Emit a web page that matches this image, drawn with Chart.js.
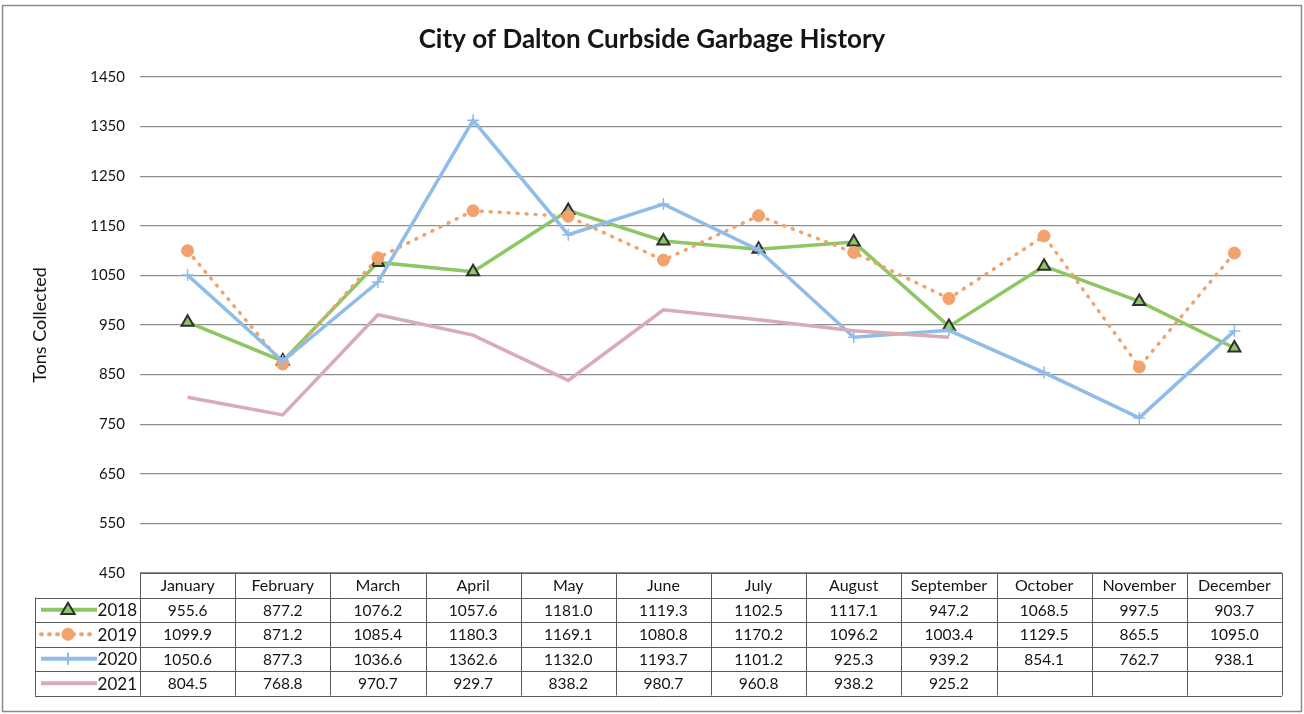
<!DOCTYPE html>
<html>
<head>
<meta charset="utf-8">
<script src="https://cdn.jsdelivr.net/npm/chart.js@4.4.1/dist/chart.umd.min.js"></script>
<style>
  html,body{margin:0;padding:0;background:#fff;}
  canvas{display:block;}
</style>
</head>
<body>
<canvas id="c" width="1304" height="714"></canvas>
<script>
const months = ["January","February","March","April","May","June","July","August","September","October","November","December"];
const seriesNames = ["2018","2019","2020","2021"];
const v2018 = [955.6, 877.2, 1076.2, 1057.6, 1181.0, 1119.3, 1102.5, 1117.1, 947.2, 1068.5, 997.5, 903.7];
const v2019 = [1099.9, 871.2, 1085.4, 1180.3, 1169.1, 1080.8, 1170.2, 1096.2, 1003.4, 1129.5, 865.5, 1095.0];
const v2020 = [1050.6, 877.3, 1036.6, 1362.6, 1132.0, 1193.7, 1101.2, 925.3, 939.2, 854.1, 762.7, 938.1];
const v2021 = [804.5, 768.8, 970.7, 929.7, 838.2, 980.7, 960.8, 938.2, 925.2, null, null, null];
const yMin = 450, yMax = 1450, yStep = 100;

const FONT = "Lato, 'Open Sans', sans-serif";
const GREEN = "#8cc763", ORANGE = "#f2a26c", BLUE = "#8fbce9", PINK = "#d9abb4";
const TEXT = "#151515";

const allValues = [v2018, v2019, v2020, v2021];

function drawMarker(ctx, style, x, y, r, fill, stroke, lw) {
  ctx.save();
  ctx.fillStyle = fill; ctx.strokeStyle = stroke; ctx.lineWidth = lw;
  ctx.beginPath();
  if (style === 'triangle') {
    ctx.moveTo(x, y - r);
    ctx.lineTo(x + r * 0.95, y + r * 0.6);
    ctx.lineTo(x - r * 0.95, y + r * 0.6);
    ctx.closePath(); ctx.fill(); ctx.stroke();
  } else if (style === 'circle') {
    ctx.arc(x, y, r, 0, Math.PI * 2); ctx.fill();
  } else if (style === 'cross') {
    ctx.moveTo(x - r, y); ctx.lineTo(x + r, y);
    ctx.moveTo(x, y - r); ctx.lineTo(x, y + r); ctx.stroke();
  }
  ctx.restore();
}

const frame = {
  id: 'frame',
  beforeDraw(chart) {
    const ctx = chart.ctx;
    ctx.save();
    ctx.fillStyle = '#fff';
    ctx.fillRect(0, 0, chart.width, chart.height);
    ctx.strokeStyle = '#8a8a8a';
    ctx.lineWidth = 1.5;
    ctx.strokeRect(2.5, 5.5, 1299, 706);
    ctx.restore();
  }
};

const keys = [
  {color: GREEN, dash: [], marker: 'triangle', mfill: GREEN, mstroke: '#2f2f2f', r: 7, lw: 4},
  {color: ORANGE, dash: [1, 7], marker: 'circle', mfill: ORANGE, mstroke: ORANGE, r: 6.5, lw: 4},
  {color: BLUE, dash: [], marker: 'cross', mfill: BLUE, mstroke: BLUE, r: 6, lw: 4},
  {color: PINK, dash: [], marker: null, r: 0, lw: 4}
];

const table = {
  id: 'table',
  afterDraw(chart) {
    const ctx = chart.ctx;
    const xs = chart.scales.x;
    const area = chart.chartArea;
    const colW = (area.right - area.left) / months.length;
    const top = area.bottom;
    const rowH = 24.5;
    const legendLeft = 35;
    ctx.save();
    ctx.strokeStyle = '#5a5a5a';
    ctx.lineWidth = 1;
    for (let r = 0; r <= 5; r++) {
      const y = Math.round(top + r * rowH) + 0.5;
      ctx.beginPath();
      ctx.moveTo(r === 0 ? area.left : legendLeft, y);
      ctx.lineTo(area.right, y);
      ctx.stroke();
    }
    for (let c = 0; c <= months.length; c++) {
      const x = Math.round(area.left + c * colW) + 0.5;
      ctx.beginPath();
      ctx.moveTo(x, top);
      ctx.lineTo(x, top + 5 * rowH);
      ctx.stroke();
    }
    ctx.beginPath();
    ctx.moveTo(legendLeft + 0.5, top + rowH);
    ctx.lineTo(legendLeft + 0.5, top + 5 * rowH);
    ctx.stroke();

    ctx.fillStyle = TEXT;
    ctx.font = "16px " + FONT;
    ctx.textAlign = 'center';
    ctx.textBaseline = 'middle';
    months.forEach((m, i) => {
      ctx.fillText(m, xs.getPixelForValue(i), top + rowH * 0.5 + 1);
    });
    allValues.forEach((vals, s) => {
      const cy = top + rowH * (s + 1.5) + 1;
      ctx.font = "15.5px " + FONT;
      ctx.textAlign = 'center';
      vals.forEach((v, i) => {
        if (v !== null) ctx.fillText(v.toFixed(1), xs.getPixelForValue(i), cy);
      });
      const k = keys[s];
      ctx.save();
      ctx.strokeStyle = k.color;
      ctx.lineWidth = k.lw;
      ctx.lineCap = k.dash.length ? 'round' : 'butt';
      ctx.setLineDash(k.dash);
      ctx.beginPath();
      ctx.moveTo(41, cy - 1);
      ctx.lineTo(97, cy - 1);
      ctx.stroke();
      ctx.restore();
      if (k.marker) drawMarker(ctx, k.marker, 68, cy - 1, k.r, k.mfill, k.mstroke, 2);
      ctx.textAlign = 'right';
      ctx.font = "17px " + FONT;
      ctx.fillText(seriesNames[s], 137, cy);
    });
    ctx.restore();
  }
};

new Chart(document.getElementById('c'), {
  type: 'line',
  data: {
    labels: months,
    datasets: [
      {label: seriesNames[0], data: v2018, borderColor: GREEN, borderWidth: 3.5,
       pointStyle: 'triangle', pointRadius: 7, pointBackgroundColor: GREEN,
       pointBorderColor: '#2f2f2f', pointBorderWidth: 2, order: 3, tension: 0},
      {label: seriesNames[1], data: v2019, borderColor: ORANGE, borderWidth: 3.5,
       borderDash: [1, 8], borderCapStyle: 'round',
       pointStyle: 'circle', pointRadius: 6, pointBackgroundColor: ORANGE,
       pointBorderColor: ORANGE, pointBorderWidth: 1, order: 2, tension: 0},
      {label: seriesNames[2], data: v2020, borderColor: BLUE, borderWidth: 3.5,
       pointStyle: 'cross', pointRadius: 6, pointBackgroundColor: BLUE,
       pointBorderColor: BLUE, pointBorderWidth: 1.5, order: 1, tension: 0},
      {label: seriesNames[3], data: v2021, borderColor: PINK, borderWidth: 3.5,
       pointRadius: 0, order: 0, tension: 0, spanGaps: false}
    ]
  },
  options: {
    responsive: false,
    animation: false,
    events: [],
    layout: {padding: {left: 22, right: 22, top: 0, bottom: 141}},
    plugins: {
      legend: {display: false},
      tooltip: {enabled: false},
      title: {
        display: true,
        text: 'City of Dalton Curbside Garbage History',
        color: TEXT,
        font: {family: FONT, size: 26, weight: 'bold'},
        padding: {top: 24, bottom: 21.8}
      }
    },
    scales: {
      x: {display: false, offset: true},
      y: {
        min: yMin, max: yMax,
        ticks: {stepSize: yStep, color: TEXT, padding: 15,
                font: {family: FONT, size: 15},
                callback: (v) => String(v)},
        grid: {color: '#8f8f8f', lineWidth: 1.2, drawTicks: false},
        border: {display: false},
        title: {display: true, text: 'Tons Collected', color: TEXT,
                font: {family: FONT, size: 18}, padding: {top: 7, bottom: 0}},
        afterFit(scale) { scale.width = 118; }
      }
    }
  },
  plugins: [frame, table]
});
</script>
</body>
</html>
